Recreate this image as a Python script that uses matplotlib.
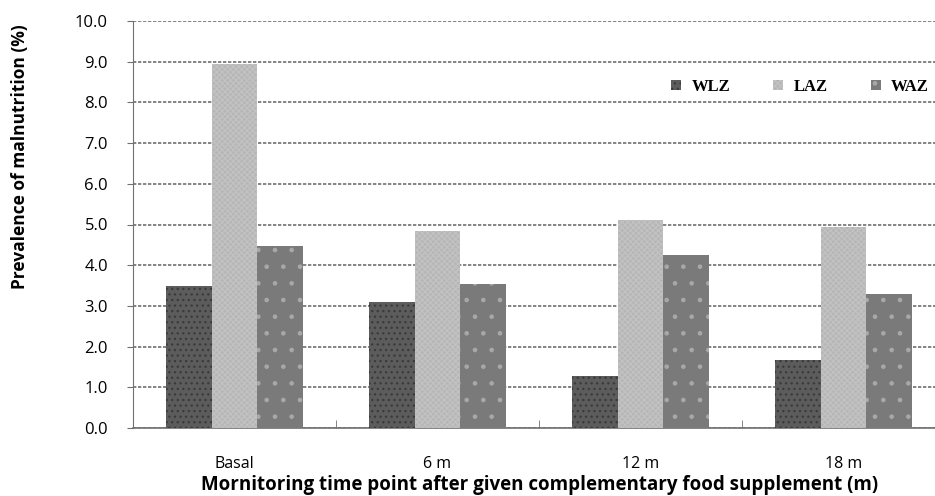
import matplotlib
matplotlib.use("Agg")
import matplotlib.pyplot as plt
import numpy as np
from matplotlib.ticker import FixedLocator, FormatStrFormatter

categories = ["Basal", "6 m", "12 m", "18 m"]
series_names = ["WLZ", "LAZ", "WAZ"]
wlz = [3.5, 3.1, 1.28, 1.67]
laz = [8.95, 4.85, 5.1, 4.95]
waz = [4.46, 3.54, 4.25, 3.3]
yticks = [0.0, 1.0, 2.0, 3.0, 4.0, 5.0, 6.0, 7.0, 8.0, 9.0, 10.0]

plt.rcParams['hatch.linewidth'] = 0.9
fig = plt.figure(figsize=(9.35, 4.96), dpi=100)
ax = fig.add_axes([133/935, 1-428/496, (945-133)/935, (428-21)/496])

x = np.arange(len(categories))
w = 0.224
styles = [
    dict(facecolor="#5c5c5c", hatch="...", edgecolor="#3a3a3a"),
    dict(facecolor="#b6b6b6", hatch="xxxxxx", edgecolor="#c2c2c2"),
    dict(facecolor="#7a7a7a", hatch=".", edgecolor="#a8a8a8"),
]
for i, (vals, name) in enumerate(zip([wlz, laz, waz], series_names)):
    ax.bar(x + (i - 1) * w, vals, w, label=name, linewidth=0, zorder=3, **styles[i])

ax.set_xlim(-0.5, len(categories) - 0.5)
ax.set_ylim(0, 10)
ax.yaxis.set_major_locator(FixedLocator(yticks))
ax.yaxis.set_major_formatter(FormatStrFormatter("%.1f"))
ax.yaxis.grid(True, color="#707070", linestyle=(0, (2, 1)), linewidth=1.2, zorder=0)
ax.set_axisbelow(True)

ax.set_xticks(x)
ax.set_xticklabels(categories, fontsize=11.5, family="Open Sans")
ax.tick_params(axis="x", which="major", length=0, pad=20)
ax.set_xticks(np.arange(0.5, len(categories) - 0.5, 1), minor=True)
ax.tick_params(axis="x", which="minor", direction="in", length=6, color="#707070")
ax.tick_params(axis="y", which="major", direction="out", length=4, color="#707070",
               labelsize=12, pad=14)
for lab in ax.get_yticklabels():
    lab.set_family("Open Sans")

for s in ["top", "right"]:
    ax.spines[s].set_visible(False)
ax.spines["left"].set_color("#707070")
ax.spines["bottom"].set_color("#707070")
ax.spines["bottom"].set_linestyle((0, (2, 1)))
ax.spines["bottom"].set_linewidth(1.2)

ax.set_ylabel("Prevalence of malnutrition (%)", fontsize=12.5, fontweight="bold",
              family="Open Sans")
ax.yaxis.set_label_coords(-(133-20)/812, (428-157)/407)
ax.set_xlabel("Mornitoring time point after given complementary food supplement (m)",
              fontsize=13.5, fontweight="bold", family="Open Sans")
ax.xaxis.set_label_coords((540-133)/812, -(485-428)/407)
ax.xaxis.label.set_va("center")
ax.yaxis.label.set_va("center")

leg = ax.legend(loc="center", bbox_to_anchor=((800-133)/812, (428-87)/407), ncol=3,
                frameon=False, handlelength=0.6, handleheight=0.6, columnspacing=2.6,
                handletextpad=0.6,
                prop=dict(family="Liberation Serif", weight="bold", size=12))

fig.savefig("out.png", dpi=100)
